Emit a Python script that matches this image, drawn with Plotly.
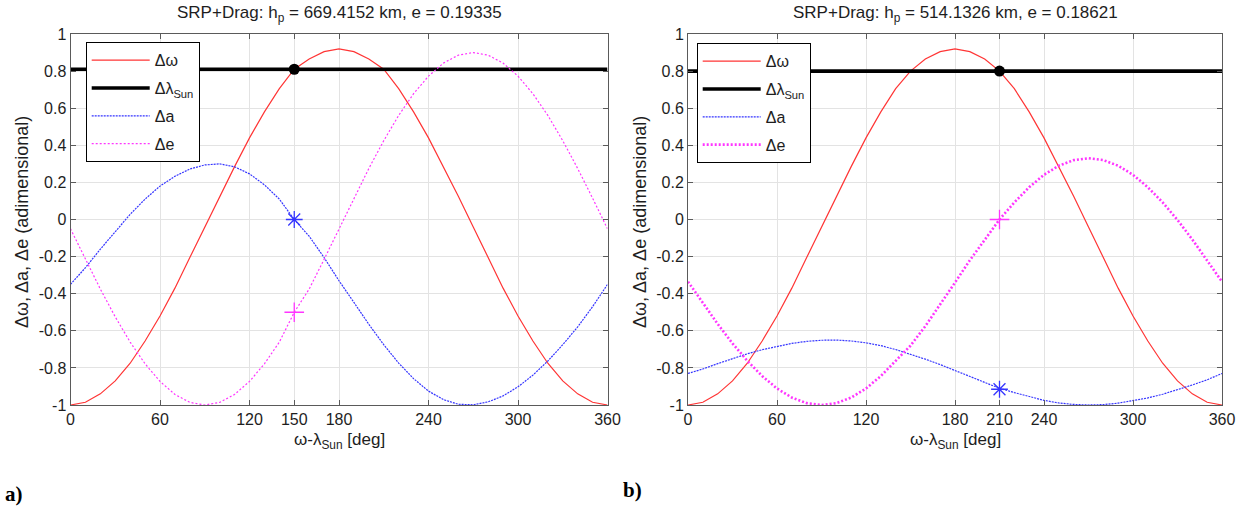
import plotly.graph_objects as go

# ---------------- data ----------------
deg = list(range(0, 361, 10))

# panel a) h_p = 669.4152 km, e = 0.19335
dw_a = [-1.0, -0.985, -0.94, -0.87, -0.775, -0.655, -0.52, -0.37, -0.205, -0.04,
        0.125, 0.285, 0.44, 0.58, 0.705, 0.81, 0.865, 0.905, 0.92, 0.905,
        0.865, 0.81, 0.705, 0.58, 0.44, 0.285, 0.125, -0.04, -0.205, -0.37,
        -0.52, -0.655, -0.775, -0.87, -0.94, -0.985, -1.0]
da_a = [-0.35, -0.26, -0.16, -0.065, 0.028, 0.11, 0.18, 0.233, 0.272, 0.294,
        0.30, 0.284, 0.246, 0.187, 0.11, 0.0, -0.09, -0.205, -0.33, -0.447,
        -0.565, -0.675, -0.774, -0.858, -0.925, -0.971, -0.996, -0.999, -0.983, -0.951,
        -0.902, -0.839, -0.763, -0.675, -0.579, -0.47, -0.35]
de_a = [-0.05, -0.215, -0.375, -0.525, -0.661, -0.778, -0.873, -0.943, -0.986, -1.0,
        -0.986, -0.943, -0.873, -0.778, -0.661, -0.5, -0.375, -0.215, -0.05, 0.115,
        0.275, 0.425, 0.561, 0.678, 0.773, 0.843, 0.886, 0.90, 0.886, 0.843,
        0.773, 0.678, 0.561, 0.425, 0.275, 0.115, -0.05]
lam_a = 0.81
sel_a = 150
sel_dw_a, sel_da_a, sel_de_a = 0.81, 0.0, -0.5

# panel b) h_p = 514.1326 km, e = 0.18621
dw_b = [-1.0, -0.985, -0.94, -0.87, -0.775, -0.655, -0.52, -0.37, -0.205, -0.04,
        0.125, 0.285, 0.44, 0.58, 0.705, 0.80, 0.865, 0.905, 0.92, 0.905,
        0.865, 0.80, 0.705, 0.58, 0.44, 0.285, 0.125, -0.04, -0.205, -0.37,
        -0.52, -0.655, -0.775, -0.87, -0.94, -0.985, -1.0]
da_b = [-0.83, -0.806, -0.777, -0.75, -0.724, -0.702, -0.683, -0.668, -0.657, -0.651,
        -0.65, -0.655, -0.665, -0.68, -0.701, -0.725, -0.753, -0.782, -0.814, -0.846,
        -0.877, -0.91, -0.933, -0.956, -0.975, -0.989, -0.997, -1.0, -0.998, -0.99,
        -0.978, -0.962, -0.942, -0.918, -0.892, -0.864, -0.83]
de_b = [-0.335, -0.45, -0.563, -0.668, -0.762, -0.844, -0.911, -0.96, -0.99, -1.0,
        -0.99, -0.96, -0.911, -0.844, -0.762, -0.68, -0.575, -0.46, -0.34, -0.22,
        -0.108, 0.0, 0.092, 0.174, 0.241, 0.29, 0.32, 0.33, 0.32, 0.29,
        0.241, 0.174, 0.092, -0.0025, -0.108, -0.22, -0.335]
lam_b = 0.80
sel_b = 210
sel_dw_b, sel_da_b, sel_de_b = 0.80, -0.915, 0.0

xticks_a = [0, 60, 120, 150, 180, 240, 300, 360]
xticks_b = [0, 60, 120, 180, 210, 240, 300, 360]
yticks = [-1, -0.8, -0.6, -0.4, -0.2, 0, 0.2, 0.4, 0.6, 0.8, 1]
ytick_text = ["-1", "-0.8", "-0.6", "-0.4", "-0.2", "0", "0.2", "0.4", "0.6", "0.8", "1"]

titles = ["SRP+Drag: h<sub>p</sub> = 669.4152 km, e = 0.19335",
          "SRP+Drag: h<sub>p</sub> = 514.1326 km, e = 0.18621"]
names = ["Δω", "Δλ<sub>Sun</sub>", "Δa", "Δe"]

# ---------------- figure ----------------
W, H = 1249, 509
ML, MR, MT, MB = 0, 0, 34, 104
FONT = "Liberation Sans, Arial, sans-serif"
TXT = "#1e1e1e"
RED, BLUE, MAG = "#ff3535", "#3535ff", "#ff35ff"

fig = go.Figure()

panels = [
    dict(dw=dw_a, da=da_a, de=de_a, lam=lam_a, sel=sel_a,
         s=(sel_dw_a, sel_da_a, sel_de_a), ax="x", ay="y", leg="legend",
         de_w=1.2, de_dash="2px,2px"),
    dict(dw=dw_b, da=da_b, de=de_b, lam=lam_b, sel=sel_b,
         s=(sel_dw_b, sel_da_b, sel_de_b), ax="x2", ay="y2", leg="legend2",
         de_w=2.6, de_dash="2px,2px"),
]

for i, p in enumerate(panels):
    common = dict(xaxis=p["ax"], yaxis=p["ay"], legend=p["leg"])
    fig.add_trace(go.Scatter(x=deg, y=p["dw"], mode="lines", name=names[0],
                             legendgroup=f"p{i}_dw",
                             line=dict(color=RED, width=1.2), **common))
    fig.add_trace(go.Scatter(x=[deg[0], deg[-1]], y=[p["lam"], p["lam"]], mode="lines",
                             name=names[1], legendgroup=f"p{i}_lam",
                             line=dict(color="black", width=3.6), **common))
    fig.add_trace(go.Scatter(x=deg, y=p["da"], mode="lines", name=names[2],
                             legendgroup=f"p{i}_da",
                             line=dict(color=BLUE, width=1.2, dash="2px,1px"), **common))
    fig.add_trace(go.Scatter(x=deg, y=p["de"], mode="lines", name=names[3],
                             legendgroup=f"p{i}_de",
                             line=dict(color=MAG, width=p["de_w"], dash=p["de_dash"]),
                             **common))
    fig.add_trace(go.Scatter(x=[p["sel"]], y=[p["s"][0]], mode="markers", showlegend=False,
                             marker=dict(color="black", size=11, symbol="circle"),
                             xaxis=p["ax"], yaxis=p["ay"]))
    fig.add_trace(go.Scatter(x=[p["sel"]], y=[p["s"][1]], mode="markers", showlegend=False,
                             marker=dict(color=BLUE, size=14, symbol="asterisk-open",
                                         line=dict(color=BLUE, width=1.3)),
                             xaxis=p["ax"], yaxis=p["ay"]))
    fig.add_trace(go.Scatter(x=[p["sel"]], y=[p["s"][2]], mode="markers", showlegend=False,
                             marker=dict(color=MAG, size=14, symbol="cross-thin-open",
                                         line=dict(color=MAG, width=1.3)),
                             xaxis=p["ax"], yaxis=p["ay"]))

px_x = lambda px: (px - ML) / (W - ML - MR)
ph = H - MT - MB
px_y = lambda py: (H - MB - py) / ph

dom_a = [px_x(70.5), px_x(607.5)]
dom_b = [px_x(688), px_x(1222)]

axis_common = dict(showline=True, linecolor="#5a5a5a", linewidth=1, mirror="ticks",
                   ticks="inside", ticklen=5, tickcolor="#5a5a5a", showgrid=True,
                   gridcolor="#e3e3e3", gridwidth=1, zeroline=False,
                   tickfont=dict(family=FONT, size=16, color=TXT))

leg_common = dict(xanchor="left", yanchor="top", bgcolor="white", bordercolor="black",
                  borderwidth=1, tracegroupgap=4, itemwidth=58,
                  font=dict(family=FONT, size=16, color=TXT))

fig.update_layout(
    width=W, height=H, margin=dict(l=ML, r=MR, t=MT, b=MB, autoexpand=False),
    paper_bgcolor="white", plot_bgcolor="white",
    font=dict(family=FONT, size=16, color=TXT),
    xaxis=dict(domain=dom_a, range=[0, 360], tickmode="array", tickvals=xticks_a,
               ticktext=[str(t) for t in xticks_a], anchor="y", **axis_common),
    yaxis=dict(domain=[0, 1], range=[-1, 1], tickmode="array", tickvals=yticks,
               ticktext=ytick_text, anchor="x", **axis_common),
    xaxis2=dict(domain=dom_b, range=[0, 360], tickmode="array", tickvals=xticks_b,
                ticktext=[str(t) for t in xticks_b], anchor="y2", **axis_common),
    yaxis2=dict(domain=[0, 1], range=[-1, 1], tickmode="array", tickvals=yticks,
                ticktext=ytick_text, anchor="x2", **axis_common),
    legend=dict(x=px_x(85.7), y=px_y(42.3), **leg_common),
    legend2=dict(x=px_x(696.7), y=px_y(43.3), **leg_common),
    showlegend=True,
)

ann = []
centers = [(70.5 + 607.5) / 2, (688 + 1222) / 2]
ylab_x = [22, 640]
for i in range(2):
    ann.append(dict(text=titles[i], x=px_x(centers[i]), y=px_y(1), xref="paper", yref="paper",
                    xanchor="center", yanchor="top", showarrow=False,
                    font=dict(family=FONT, size=17, color=TXT)))
    ann.append(dict(text="ω-λ<sub>Sun</sub> [deg]", x=px_x(centers[i]), y=px_y(428),
                    xref="paper", yref="paper", xanchor="center", yanchor="top",
                    showarrow=False, font=dict(family=FONT, size=17, color=TXT)))
    ann.append(dict(text="Δω, Δa, Δe (adimensional)", x=px_x(ylab_x[i]), y=px_y(222),
                    xref="paper", yref="paper", xanchor="center", yanchor="middle",
                    textangle=-90, showarrow=False,
                    font=dict(family=FONT, size=18, color=TXT)))
ann.append(dict(text="<b>a)</b>", x=px_x(4), y=px_y(494), xref="paper", yref="paper",
                xanchor="left", yanchor="middle", showarrow=False, borderpad=0,
                font=dict(family="Liberation Serif, Times New Roman, serif", size=21,
                          color="black")))
ann.append(dict(text="<b>b)</b>", x=px_x(622), y=px_y(490), xref="paper", yref="paper",
                xanchor="left", yanchor="middle", showarrow=False, borderpad=0,
                font=dict(family="Liberation Serif, Times New Roman, serif", size=21,
                          color="black")))
fig.update_layout(annotations=ann)

fig.write_html("out.html", config={"displayModeBar": False},
               post_script="document.body.style.margin='0';document.body.style.padding='0';")
